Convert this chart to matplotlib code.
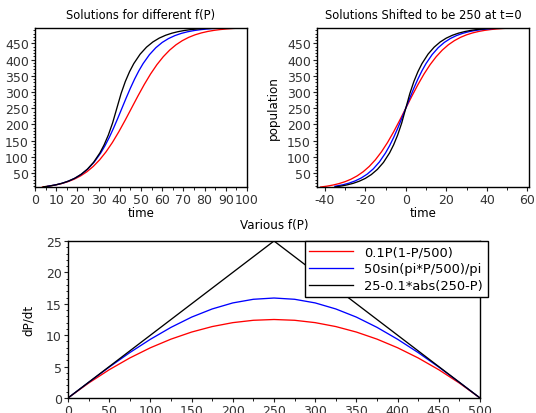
import matplotlib
matplotlib.use("Agg")
import matplotlib.pyplot as plt
from matplotlib.ticker import MultipleLocator

# ---- data ----
# Red: 0.1P(1-P/500)
red_t = [3.5, 6.5, 9.5, 12.5, 15.5, 18.5, 21.5, 24.5, 27.5, 30.5, 33.5, 36.5, 39.5, 42.5,
         45.5, 48.5, 51.5, 54.5, 57.5, 60.5, 63.5, 66.5, 69.5, 72.5, 75.5, 78.5, 81.5,
         84.5, 87.5, 90.5, 93.5, 97.5]
red_p = [7.4, 9.9, 13.3, 17.8, 23.7, 31.5, 41.6, 54.5, 70.9, 91.2, 115.7, 144.5, 177.2, 212.8,
         250.0, 287.2, 322.8, 355.5, 384.3, 408.8, 429.1, 445.5, 458.4, 468.5, 476.3, 482.2,
         486.7, 490.1, 492.6, 494.5, 495.9, 497.3]
# Blue: 50sin(pi*P/500)/pi
blue_t = [6, 10, 13, 16, 19, 22, 25, 28, 31, 33, 35, 37, 39, 41, 43, 45, 47, 49, 51, 54,
          57, 60, 63, 66, 69, 72, 75, 78, 81, 84, 88]
blue_p = [9.6, 14.3, 19.3, 26.1, 35.1, 47.2, 63.4, 84.7, 112.2, 134.4, 159.8, 188.0, 218.4,
          250.0, 281.6, 312.0, 340.2, 365.6, 387.8, 415.3, 436.6, 452.8, 464.9, 473.9, 480.7,
          485.7, 489.4, 492.1, 494.1, 495.7, 497.1]
# Black: 25-0.1*abs(250-P)
black_t = [3.9, 6.6, 9.6, 12.6, 15.6, 18.6, 21.6, 24.6, 27.6, 30.6, 32.6, 34.6, 36.6, 38.6,
           40.6, 42.6, 44.6, 46.6, 49.6, 52.6, 55.6, 58.6, 61.6, 64.6, 67.6, 70.6, 73.6,
           76.6, 79.6, 82.8]
black_p = [7.8, 10.2, 13.8, 18.6, 25.1, 33.8, 45.7, 61.7, 83.2, 112.3, 137.2, 167.6, 204.7,
           250.0, 295.3, 332.4, 362.8, 387.7, 416.8, 438.3, 454.3, 466.2, 474.9, 481.4, 486.2,
           489.8, 492.5, 494.4, 495.9, 497.0]
# time at which each solution is 250 (shift for the right panel)
shift_red, shift_blue, shift_black = 45.5, 41.0, 38.6

# bottom panel: f(P)
P_vals = [0, 25, 50, 75, 100, 125, 150, 175, 200, 225, 250, 275, 300, 325, 350, 375, 400,
          425, 450, 475, 500]
f_red = [0, 2.375, 4.5, 6.375, 8.0, 9.375, 10.5, 11.375, 12.0, 12.375, 12.5, 12.375, 12.0,
         11.375, 10.5, 9.375, 8.0, 6.375, 4.5, 2.375, 0]
f_blue = [0, 2.49, 4.92, 7.23, 9.35, 11.25, 12.88, 14.18, 15.14, 15.72, 15.92, 15.72, 15.14,
          14.18, 12.88, 11.25, 9.35, 7.23, 4.92, 2.49, 0]
f_black = [0, 2.5, 5, 7.5, 10, 12.5, 15, 17.5, 20, 22.5, 25, 22.5, 20, 17.5, 15, 12.5, 10,
           7.5, 5, 2.5, 0]
legend_labels = ["0.1P(1-P/500)", "50sin(pi*P/500)/pi", "25-0.1*abs(250-P)"]

W, H = 536, 414
fig = plt.figure(figsize=(W / 100, H / 100), dpi=100)
plt.rcParams['font.family'] = ['DejaVu Sans']

def rect(l, r, t, b):
    return [l / W, 1 - b / H, (r - l) / W, (b - t) / H]

TICK = 9
TXT = 8.3

def style(ax):
    for s in ax.spines.values():
        s.set_linewidth(1.0)
        s.set_color('black')
    ax.tick_params(which='major', direction='out', length=3, width=0.8, labelsize=TICK,
                   colors='#222222', pad=1.5)
    ax.tick_params(which='minor', direction='out', length=1.8, width=0.6)
    ax.tick_params(labelcolor='#333333')

lw = 0.95
ax1 = fig.add_axes(rect(35, 247, 29, 188))
ax1.plot(red_t, red_p, color='red', lw=lw)
ax1.plot(blue_t, blue_p, color='blue', lw=lw)
ax1.plot(black_t, black_p, color='black', lw=lw)
ax1.set_xlim(0, 100)
ax1.set_ylim(min(red_p), max(red_p))
ax1.set_xticks(range(0, 101, 10))
ax1.set_yticks(range(50, 451, 50))
ax1.xaxis.set_minor_locator(MultipleLocator(5))
ax1.yaxis.set_minor_locator(MultipleLocator(10))
ax1.set_title("Solutions for different f(P)", fontsize=TXT, pad=7)
ax1.set_xlabel("time", fontsize=TXT + 0.3, labelpad=0)
ax1.set_ylabel("population", fontsize=TXT + 0.3)
ax1.yaxis.set_label_coords(-0.185, 0.5)
style(ax1)

ax2 = fig.add_axes(rect(317, 529, 29, 188))
ax2.plot([t - shift_red for t in red_t], red_p, color='red', lw=lw)
ax2.plot([t - shift_blue for t in blue_t], blue_p, color='blue', lw=lw)
ax2.plot([t - shift_black for t in black_t], black_p, color='black', lw=lw)
ax2.set_xlim(-43.8, 60.8)
ax2.set_ylim(min(red_p), max(red_p))
ax2.set_xticks(range(-40, 61, 20))
ax2.set_yticks(range(50, 451, 50))
ax2.xaxis.set_minor_locator(MultipleLocator(10))
ax2.yaxis.set_minor_locator(MultipleLocator(10))
ax2.set_xticklabels(["-40", "-20", "0", "20", "40", "60"])
ax2.set_title("Solutions Shifted to be 250 at t=0", fontsize=TXT, pad=7)
ax2.set_xlabel("time", fontsize=TXT + 0.3, labelpad=0)
ax2.set_ylabel("population", fontsize=TXT + 0.3)
ax2.yaxis.set_label_coords(-0.175, 0.5)
style(ax2)

ax3 = fig.add_axes(rect(68, 480, 242, 399))
l1, = ax3.plot(P_vals, f_red, color='red', lw=lw)
l2, = ax3.plot(P_vals, f_blue, color='blue', lw=lw)
l3, = ax3.plot(P_vals, f_black, color='black', lw=lw)
ax3.set_xlim(0, 500)
ax3.set_ylim(0, 25)
ax3.set_xticks(range(0, 501, 50))
ax3.set_yticks(range(0, 26, 5))
ax3.xaxis.set_minor_locator(MultipleLocator(25))
ax3.yaxis.set_minor_locator(MultipleLocator(1))
ax3.set_title("Various f(P)", fontsize=TXT + 0.3, pad=9)
ax3.set_ylabel("dP/dt", fontsize=TXT + 0.3)
ax3.yaxis.set_label_coords(-0.08, 0.5)
style(ax3)
leg = ax3.legend([l1, l2, l3], legend_labels, loc='upper left',
                 bbox_to_anchor=(0.575, 1.0), borderaxespad=0, fontsize=9.4,
                 fancybox=False, framealpha=1, edgecolor='black',
                 handlelength=3.3, handletextpad=0.9, borderpad=0.35,
                 labelspacing=0.3)
leg.get_frame().set_linewidth(1.0)

fig.savefig("out.png", dpi=100)
